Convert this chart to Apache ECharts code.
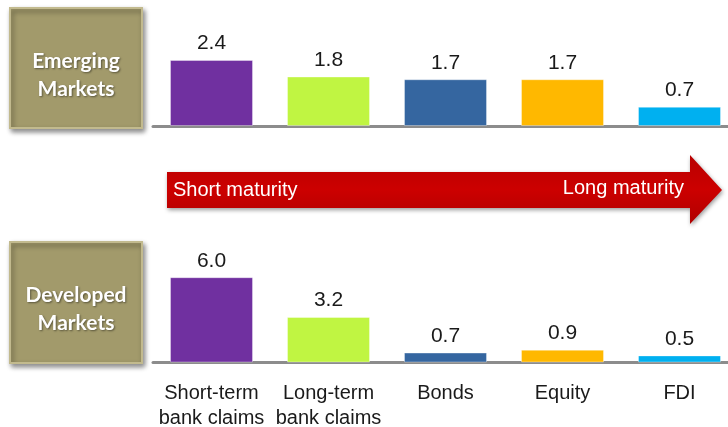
<!DOCTYPE html>
<html>
<head>
<meta charset="utf-8">
<style>
  html, body { margin: 0; padding: 0; background: #fff; overflow: hidden; }
  #chart { width: 760px; height: 427px; }
</style>
<script src="https://cdn.jsdelivr.net/npm/echarts@6/dist/echarts.min.js"></script>
</head>
<body>
<div id="chart"></div>
<script>
const categories = ['Short-term\nbank claims', 'Long-term\nbank claims', 'Bonds', 'Equity', 'FDI'];
const emergingValues = [2.4, 1.8, 1.7, 1.7, 0.7];
const developedValues = [6.0, 3.2, 0.7, 0.9, 0.5];
const panelTitles = ['Emerging\nMarkets', 'Developed\nMarkets'];
const arrowLabels = ['Short maturity', 'Long maturity'];

const barColors = ['#7030a0', '#c0f542', '#3566a0', '#ffb800', '#00b0f0'];
const font = '"Liberation Sans", Arial, sans-serif';

// the chart div is a bit wider than the window so the last band runs off the right edge
const chart = echarts.init(document.getElementById('chart'));

function barSeries(values, idx) {
  return {
    type: 'bar',
    xAxisIndex: idx,
    yAxisIndex: idx,
    data: values,
    barWidth: 83,
    itemStyle: {
      color: p => barColors[p.dataIndex],
      borderColor: 'rgba(255,255,255,0.35)',
      borderWidth: 1
    },
    label: {
      show: true,
      position: 'top',
      distance: 6,
      formatter: p => p.value.toFixed(1),
      color: '#1a1a1a',
      fontFamily: font,
      fontSize: 21
    },
    silent: true
  };
}

function titleBox(y, h, text) {
  return [
    {
      type: 'rect',
      shape: { x: 10, y: y, width: 132, height: h },
      style: {
        fill: '#a29a6b',
        stroke: '#c2ba8e',
        lineWidth: 2,
        shadowColor: 'rgba(0,0,0,0.45)',
        shadowBlur: 5,
        shadowOffsetX: 2,
        shadowOffsetY: 3
      }
    },
    {
      type: 'text',
      x: 76,
      y: y + h / 2 + 7,
      style: {
        text: text,
        fill: '#ffffff',
        font: 'bold 21px Lato, "Liberation Sans", sans-serif',
        lineHeight: 28,
        align: 'center',
        verticalAlign: 'middle',
        textShadowColor: 'rgba(0,0,0,0.45)',
        textShadowBlur: 2,
        textShadowOffsetX: 1,
        textShadowOffsetY: 1
      }
    }
  ];
}

chart.setOption({
  animation: false,
  grid: [
    { left: 153, width: 585, top: 43.5, height: 82.5, outerBoundsMode: 'none' },
    { left: 153, width: 585, top: 263, height: 99.5, outerBoundsMode: 'none' }
  ],
  xAxis: [
    {
      type: 'category',
      gridIndex: 0,
      data: categories,
      axisLine: { lineStyle: { color: '#8c8c8c', width: 3 } },
      axisTick: { show: false },
      axisLabel: { show: false }
    },
    {
      type: 'category',
      gridIndex: 1,
      data: categories,
      axisLine: { lineStyle: { color: '#8c8c8c', width: 3 } },
      axisTick: { show: false },
      axisLabel: {
        interval: 0,
        color: '#1a1a1a',
        fontFamily: font,
        fontSize: 20,
        lineHeight: 25,
        margin: 18
      }
    }
  ],
  yAxis: [
    { type: 'value', gridIndex: 0, min: 0, max: 3, show: false },
    { type: 'value', gridIndex: 1, min: 0, max: 7, show: false }
  ],
  series: [barSeries(emergingValues, 0), barSeries(developedValues, 1)],
  graphic: [
    ...titleBox(8, 120, panelTitles[0]),
    ...titleBox(242, 121, panelTitles[1]),
    {
      type: 'polygon',
      shape: {
        points: [[167, 172], [690, 172], [690, 155], [722, 190], [690, 224], [690, 208], [167, 208]]
      },
      style: {
        fill: new echarts.graphic.LinearGradient(0, 0, 0, 1, [
          { offset: 0, color: '#b80000' },
          { offset: 0.5, color: '#cc0000' },
          { offset: 1, color: '#b00000' }
        ]),
        shadowColor: 'rgba(0,0,0,0.4)',
        shadowBlur: 4,
        shadowOffsetX: 1,
        shadowOffsetY: 2
      }
    },
    {
      type: 'text',
      x: 173,
      y: 190,
      style: {
        text: arrowLabels[0],
        fill: '#ffffff',
        font: '20px ' + font,
        align: 'left',
        verticalAlign: 'middle'
      }
    },
    {
      type: 'text',
      x: 684,
      y: 188,
      style: {
        text: arrowLabels[1],
        fill: '#ffffff',
        font: '20px ' + font,
        align: 'right',
        verticalAlign: 'middle'
      }
    }
  ]
});

window.addEventListener('resize', () => chart.resize());
</script>
</body>
</html>
